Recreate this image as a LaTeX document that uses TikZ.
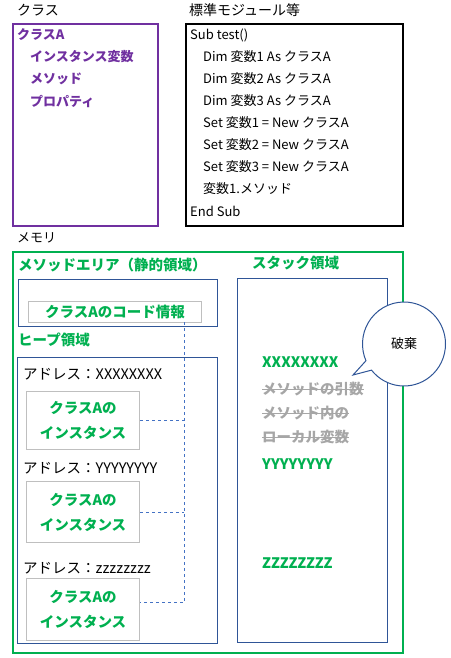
\documentclass[tikz,border=0pt]{standalone}
\usepackage{fontspec}
\setmainfont{Noto Sans CJK JP}
\usetikzlibrary{shapes.callouts,calc}
\definecolor{cpurple}{HTML}{7030A0}
\definecolor{cgreen}{HTML}{00B050}
\definecolor{cblue}{HTML}{2F5597}
\definecolor{cdash}{HTML}{4472C4}
\definecolor{cgraybox}{HTML}{BFBFBF}
\definecolor{cstrike}{HTML}{A6A6A6}
\tikzset{
  cont/.style={draw, inner sep=0pt, anchor=north west},
  txt/.style={anchor=west, inner sep=0pt, font=\fontsize{13}{16}\selectfont},
  ttl/.style={txt, font=\fontsize{14}{16}\selectfont},
  adr/.style={txt, font=\fontsize{14.5}{16}\selectfont},
  gbold/.style={txt, text=cgreen, font=\fontsize{14.5}{16}\selectfont\bfseries},
  pbold/.style={txt, text=cpurple, font=\fontsize{13}{16}\selectfont\bfseries},
  strk/.style={txt, text=cstrike, font=\fontsize{14.5}{16}\selectfont\bfseries},
  inst/.style={draw=cgraybox, line width=1pt, anchor=north west, minimum width=113pt, align=center, text=cgreen, font=\fontsize{14.5}{25}\selectfont\bfseries},
  dline/.style={draw=cdash, dashed, line width=0.8pt},
}
\begin{document}
\begin{tikzpicture}[x=1pt,y=-1pt]
\useasboundingbox (0,0) rectangle (450,658);
% titles
\node[ttl] (tclass) at (17,10) {クラス};
\node[ttl] (tmod) at (189,10) {標準モジュール等};
\node[txt] (tmem) at (17,238) {メモリ};
% class box
\node[cont, draw=cpurple, line width=1.6pt, minimum width=145pt, minimum height=202pt] (classbox) at (12,23) {};
\node[pbold] (cA) at (17,35) {クラスA};
\node[pbold] (c1) at (30,57) {インスタンス変数};
\node[pbold] (c2) at (30,79) {メソッド};
\node[pbold] (c3) at (30,101) {プロパティ};
% code box
\node[cont, draw=black, line width=2pt, minimum width=217pt, minimum height=202pt] (codebox) at (185,23) {};
\node[txt] (l0) at (190,35) {Sub test()};
\node[txt] (l1) at (203,57) {Dim 変数1 As クラスA};
\node[txt] (l2) at (203,79) {Dim 変数2 As クラスA};
\node[txt] (l3) at (203,101) {Dim 変数3 As クラスA};
\node[txt] (l4) at (203,123) {Set 変数1 = New クラスA};
\node[txt] (l5) at (203,145) {Set 変数2 = New クラスA};
\node[txt] (l6) at (203,167) {Set 変数3 = New クラスA};
\node[txt] (l7) at (203,189) {変数1.メソッド};
\node[txt] (l8) at (190,211) {End Sub};
% memory
\node[cont, draw=cgreen, line width=1.8pt, minimum width=390pt, minimum height=401pt] (mem) at (12,251) {};
\node[gbold] (tma) at (18,265) {メソッドエリア（静的領域）};
\node[cont, draw=cblue, line width=1pt, minimum width=199pt, minimum height=47pt] (ma) at (18,279) {};
\node[cont, draw=cgraybox, line width=1pt, minimum width=173pt, minimum height=21pt, text=cgreen, font=\fontsize{14.5}{16}\selectfont\bfseries] (codeinfo) at (28,301) {クラスAのコード情報};
\node[gbold] (theap) at (18,340) {ヒープ領域};
\node[cont, draw=cblue, line width=1pt, minimum width=200pt, minimum height=286pt] (heap) at (17,357) {};
\node[adr] (ad1) at (23,374) {アドレス：XXXXXXXX};
\node[inst, minimum height=58pt] (inst1) at (26,391) {クラスAの\\インスタンス};
\node[adr] (ad2) at (23,468) {アドレス：YYYYYYYY};
\node[inst, minimum height=61pt] (inst2) at (26,481) {クラスAの\\インスタンス};
\node[adr] (ad3) at (23,568) {アドレス：zzzzzzzz};
\node[inst, minimum height=62pt] (inst3) at (26,578) {クラスAの\\インスタンス};
% dashed links
\coordinate (busTop) at (184,322);
\coordinate (i3) at ($(inst3.east)+(0,-7)$);
\draw[dline] (busTop) -- (i3 -| busTop) -- (i3);
\draw[dline] (inst1.east) -- (inst1.east -| busTop);
\draw[dline] (inst2.east) -- (inst2.east -| busTop);
% stack
\node[gbold] (tstack) at (252,263) {スタック領域};
\node[cont, draw=cblue, line width=1pt, minimum width=150pt, minimum height=364pt] (stack) at (237,278) {};
\node[gbold] (sx) at (262,362) {XXXXXXXX};
\node[strk] (s1) at (262,389) {メソッドの引数};
\node[strk] (s2) at (262,413) {メソッド内の};
\node[strk] (s3) at (262,437) {ローカル変数};
\draw[cstrike, line width=1pt] (s1.west) -- (s1.east);
\draw[cstrike, line width=1pt] (s2.west) -- (s2.east);
\draw[cstrike, line width=1pt] (s3.west) -- (s3.east);
\node[gbold] (sy) at (262,464) {YYYYYYYY};
\node[gbold] (sz) at (262,563) {ZZZZZZZZ};
% callout
\node[ellipse callout, draw=cblue, fill=white, line width=1pt, minimum width=83pt, minimum height=84pt, inner sep=0pt, callout absolute pointer={(353,375)}, font=\fontsize{13}{16}\selectfont] (haki) at (404,344) {破棄};
\end{tikzpicture}
\end{document}
